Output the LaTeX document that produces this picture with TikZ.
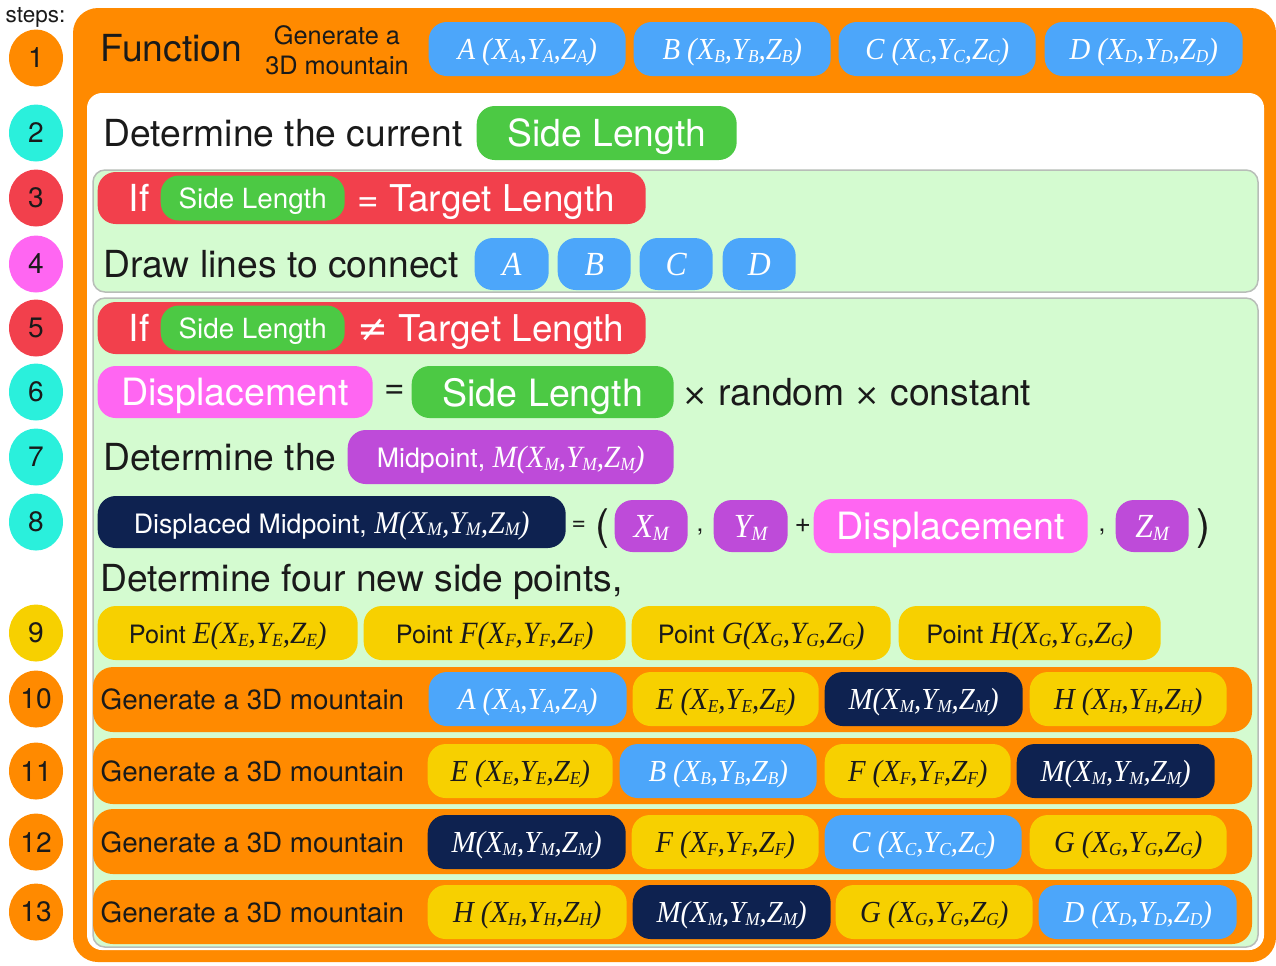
\documentclass[tikz,border=0pt]{standalone}
\usepackage{fontspec}
\setmainfont{TeX Gyre Heros}
\newfontfamily\timesfont{Liberation Serif}[FakeStretch=0.94]
\newfontfamily\symfont{DejaVu Sans}
\usetikzlibrary{shapes.geometric}
\definecolor{StepOrange}{HTML}{FF8A00}
\definecolor{StepCyan}{HTML}{2AF0DC}
\definecolor{StepRed}{HTML}{F2404C}
\definecolor{StepPink}{HTML}{FF66F2}
\definecolor{StepYellow}{HTML}{F7D000}
\definecolor{PillBlue}{HTML}{4CA6FA}
\definecolor{PillGreen}{HTML}{4CC944}
\definecolor{PillPurple}{HTML}{BE4BD9}
\definecolor{PillNavy}{HTML}{0E2250}
\definecolor{PanelGreen}{HTML}{D4FBD0}
\definecolor{PanelLine}{HTML}{B8BDB8}
\definecolor{TextDark}{HTML}{1A1A1A}
\newcommand{\fsz}[1]{\fontsize{#1}{#1}\selectfont}
\newcommand{\sub}[1]{\raisebox{-0.2ex}{\scalebox{0.6}{#1}}}
\newcommand{\xyz}[1]{(X\sub{#1},Y\sub{#1},Z\sub{#1})}
\newcommand{\pvar}[2][9]{{\timesfont\itshape\fsz{#1}#2}}
\newcommand{\sym}[1]{{\symfont #1}}
\tikzset{
  pill/.style={rounded corners=1.8mm, minimum height=5.4mm, inner sep=0pt, text depth=0pt, anchor=west},
  bluepill/.style={pill, fill=PillBlue, text=white},
  greenpill/.style={pill, fill=PillGreen, text=white},
  redpill/.style={pill, fill=StepRed, text=white},
  pinkpill/.style={pill, fill=StepPink, text=white},
  purplepill/.style={pill, fill=PillPurple, text=white},
  navypill/.style={pill, fill=PillNavy, text=white},
  yellowpill/.style={pill, fill=StepYellow, text=TextDark},
  txt/.style={inner sep=0pt, text depth=0pt, anchor=west, text=TextDark},
  bigtxt/.style={txt, font=\fsz{10.6}},
  crd/.style={font=\timesfont\itshape\fsz{8.7}},
  onecrd/.style={font=\timesfont\itshape\fsz{9.6}},
  stepdot/.style={ellipse, minimum width=5.4mm, minimum height=5.7mm, inner sep=0pt, text=TextDark, font=\fsz{8}},
  panel/.style={fill=PanelGreen, draw=PanelLine, line width=0.15mm, rounded corners=1.2mm},
  band/.style={fill=StepOrange, rounded corners=2mm}
}

\begin{document}
\begin{tikzpicture}[x=0.1mm, y=-0.1mm]
  \useasboundingbox (0,0) rectangle (1276,965);

  % frame, header band and green panels
  \fill[StepOrange, rounded corners=2.5mm] (73,8) rectangle (1276,962);
  \fill[white, rounded corners=1.5mm] (87,93) rectangle (1264,950);
  \draw[panel] (93,170) rectangle (1258,292);
  \draw[panel] (93,298) rectangle (1258,947);
  \fill[band] (93,667) rectangle (1252,732);
  \fill[band] (93,738) rectangle (1252,804);
  \fill[band] (93,809) rectangle (1252,874);
  \fill[band] (93,880) rectangle (1252,944);

  % step numbers
  \node[txt, font=\fsz{6.4}] (steps) at (5,15) {steps:};
  \foreach \n/\y/\c in {1/58/StepOrange, 2/133/StepCyan, 3/198/StepRed, 4/264/StepPink,
      5/328/StepRed, 6/392/StepCyan, 7/457/StepCyan, 8/522/StepCyan, 9/633/StepYellow,
      10/699/StepOrange, 11/771/StepOrange, 12/842/StepOrange, 13/912/StepOrange}
    \node[stepdot, fill=\c] (step\n) at (36,\y) {\n};

  % 1: function header
  \node[txt, font=\fsz{10.6}] (func) at (100,48) {Function};
  \node[inner sep=0pt, align=center, text=TextDark, font=\fontsize{7.2}{8.6}\selectfont] (funcname) at (337,50) {Generate a\\3D mountain};
  \node[bluepill, crd, minimum width=19.7mm] (hdrA) at (428,49) {A \xyz{A}};
  \node[bluepill, crd, minimum width=19.7mm] (hdrB) at (633,49) {B \xyz{B}};
  \node[bluepill, crd, minimum width=19.7mm] (hdrC) at (838,49) {C \xyz{C}};
  \node[bluepill, crd, minimum width=19.8mm] (hdrD) at (1044,49) {D \xyz{D}};

  % 2
  \node[bigtxt] (current) at (103,133) {Determine the current};
  \node[greenpill, font=\fsz{10.6}, minimum width=26mm] (sidelen) at (476,133) {Side Length};

  % 3 and 4
  \node[redpill, minimum width=54.8mm, minimum height=5.2mm] (ifeq) at (97,198) {};
  \node[txt, text=white, font=\fsz{10.6}] (ifeqword) at (128,198) {If};
  \node[greenpill, font=\fsz{7.9}, minimum width=18.4mm, minimum height=4.5mm] (ifeqside) at (160,198) {Side Length};
  \node[txt, text=white, font=\fsz{10.5}] (ifeqtarget) at (357,198) {= Target Length};
  \node[bigtxt] (connect) at (103,264) {Draw lines to connect};
  \node[bluepill, onecrd, minimum width=7.4mm, minimum height=5.2mm] (conA) at (474,264) {A};
  \node[bluepill, onecrd, minimum width=7.3mm, minimum height=5.2mm] (conB) at (557,264) {B};
  \node[bluepill, onecrd, minimum width=7.3mm, minimum height=5.2mm] (conC) at (639,264) {C};
  \node[bluepill, onecrd, minimum width=7.3mm, minimum height=5.2mm] (conD) at (722,264) {D};

  % 5
  \node[redpill, minimum width=54.8mm, minimum height=5.2mm] (ifne) at (97,328) {};
  \node[txt, text=white, font=\fsz{10.6}] (ifneword) at (128,328) {If};
  \node[greenpill, font=\fsz{7.9}, minimum width=18.4mm, minimum height=4.5mm] (ifneside) at (160,328) {Side Length};
  \node[txt, text=white, font=\fsz{10.5}] (ifnetarget) at (357,328) {\sym{≠} Target Length};

  % 6
  \node[pinkpill, font=\fsz{10.7}, minimum width=27.5mm, minimum height=5.2mm] (disp) at (97,392) {Displacement};
  \node[txt, font=\fsz{10}] (dispeq) at (384,392) {=};
  \node[greenpill, font=\fsz{10.7}, minimum width=26.2mm, minimum height=5.2mm] (dispside) at (411,392) {Side Length};
  \node[bigtxt] (random) at (682,392) {{\symfont\fsz{8.6}×} random {\symfont\fsz{8.6}×} constant};

  % 7
  \node[bigtxt] (midtext) at (103,457) {Determine the};
  \node[purplepill, font=\fsz{7.6}, minimum width=32.6mm] (mid) at (347,457) {Midpoint, \pvar[8.8]{M\xyz{M}}};

  % 8
  \node[navypill, font=\fsz{7.6}, minimum width=46.8mm, minimum height=5.2mm] (dmid) at (97,522) {Displaced Midpoint, \pvar[9]{M\xyz{M}}};
  \node[txt, font=\fsz{7}] (dmideq) at (571,526) {=};
  \node[txt, font=\fsz{12}] (dmidopen) at (595,524) {(};
  \node[purplepill, onecrd, minimum width=7.3mm, minimum height=5.2mm] (xm) at (614,526) {X\sub{M}};
  \node[txt, font=\fsz{7}] (comma1) at (696,530) {,};
  \node[purplepill, onecrd, minimum width=7.4mm, minimum height=5.2mm] (ym) at (713,526) {Y\sub{M}};
  \node[txt, font=\fsz{8}] (plus) at (794,526) {+};
  \node[pinkpill, font=\fsz{10.7}, minimum width=27.4mm] (ydisp) at (813,526) {Displacement};
  \node[txt, font=\fsz{7}] (comma2) at (1098,530) {,};
  \node[purplepill, onecrd, minimum width=7.3mm, minimum height=5.2mm] (zm) at (1115,526) {Z\sub{M}};
  \node[txt, font=\fsz{12}] (dmidclose) at (1196,524) {)};

  % 9
  \node[bigtxt] (sidepts) at (100,578) {Determine four new side points,};
  \node[yellowpill, font=\fsz{7.2}, minimum width=26mm] (ptE) at (97,633) {Point \pvar[8.8]{E\xyz{E}}};
  \node[yellowpill, font=\fsz{7.2}, minimum width=26.2mm] (ptF) at (363,633) {Point \pvar[8.8]{F\xyz{F}}};
  \node[yellowpill, font=\fsz{7.2}, minimum width=25.9mm] (ptG) at (631,633) {Point \pvar[8.8]{G\xyz{G}}};
  \node[yellowpill, font=\fsz{7.2}, minimum width=26.2mm] (ptH) at (898,633) {Point \pvar[8.8]{H\xyz{G}}};

  % 10 - 13: recursive calls
  \node[txt, font=\fsz{7.9}] (gen10) at (100,699) {Generate a 3D mountain};
  \node[bluepill, crd, minimum width=19.8mm] (r10a) at (428,699) {A \xyz{A}};
  \node[yellowpill, crd, minimum width=18.6mm] (r10b) at (632,699) {E \xyz{E}};
  \node[navypill, crd, minimum width=19.8mm] (r10c) at (824,699) {M\xyz{M}};
  \node[yellowpill, crd, minimum width=19.7mm] (r10d) at (1029,699) {H \xyz{H}};

  \node[txt, font=\fsz{7.9}] (gen11) at (100,771) {Generate a 3D mountain};
  \node[yellowpill, crd, minimum width=18.5mm] (r11a) at (427,771) {E \xyz{E}};
  \node[bluepill, crd, minimum width=19.7mm] (r11b) at (619,771) {B \xyz{B}};
  \node[yellowpill, crd, minimum width=18.6mm] (r11c) at (824,771) {F \xyz{F}};
  \node[navypill, crd, minimum width=19.8mm] (r11d) at (1016,771) {M\xyz{M}};

  \node[txt, font=\fsz{7.9}] (gen12) at (100,842) {Generate a 3D mountain};
  \node[navypill, crd, minimum width=19.8mm] (r12a) at (427,842) {M\xyz{M}};
  \node[yellowpill, crd, minimum width=18.7mm] (r12b) at (631,842) {F \xyz{F}};
  \node[bluepill, crd, minimum width=19.7mm] (r12c) at (824,842) {C \xyz{C}};
  \node[yellowpill, crd, minimum width=19.7mm] (r12d) at (1029,842) {G \xyz{G}};

  \node[txt, font=\fsz{7.9}] (gen13) at (100,912) {Generate a 3D mountain};
  \node[yellowpill, crd, minimum width=19.9mm] (r13a) at (427,912) {H \xyz{H}};
  \node[navypill, crd, minimum width=19.8mm] (r13b) at (632,912) {M\xyz{M}};
  \node[yellowpill, crd, minimum width=19.7mm] (r13c) at (835,912) {G \xyz{G}};
  \node[bluepill, crd, minimum width=19.8mm] (r13d) at (1038,912) {D \xyz{D}};
\end{tikzpicture}
\end{document}
